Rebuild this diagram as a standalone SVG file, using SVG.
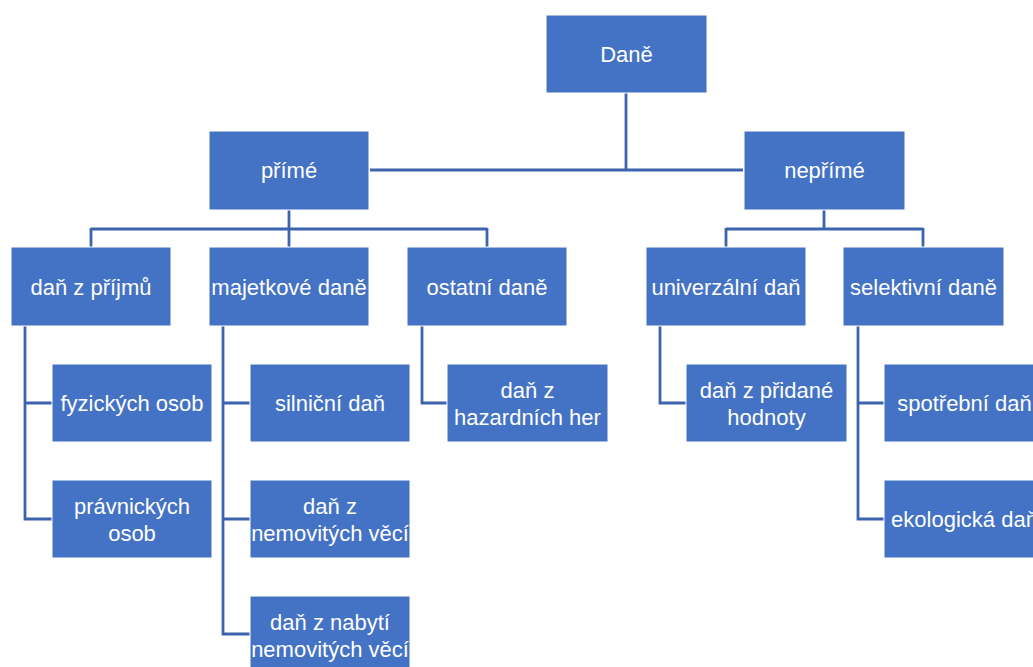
<svg xmlns="http://www.w3.org/2000/svg" width="1033" height="667" viewBox="0 0 1033 667">
<style>
.box{fill:#4472C4;stroke:#ffffff;stroke-width:1}
.t{fill:#ffffff;font-family:"Liberation Sans",Arial,sans-serif;font-size:22px;text-anchor:middle}
.c{fill:none;stroke:#3C63AC;stroke-width:2.8}
</style>
<rect width="1033" height="667" fill="#ffffff"/>
<g id="connectors">
<path class="c" d="M626,93V170M370,170H743"/>
<path class="c" d="M289,210V229M91,229H487M91,228V247M289,228V247M487,228V247"/>
<path class="c" d="M824,210V229M726,229H923M726,228V247M923,228V247"/>
<path class="c" d="M25,326V519H52M25,403H52"/>
<path class="c" d="M223,326V634H250M223,403H250M223,519H250"/>
<path class="c" d="M422,326V403H447"/>
<path class="c" d="M660,326V403H686"/>
<path class="c" d="M858,326V519H884M858,403H884"/>
</g>
<g id="dane"><rect class="box" x="546" y="15" width="161" height="78"/><text class="t" x="626.5" y="62">Daně</text></g>
<g id="prime"><rect class="box" x="209" y="131" width="160" height="79"/><text class="t" x="289" y="178">přímé</text></g>
<g id="neprime"><rect class="box" x="744" y="131" width="161" height="79"/><text class="t" x="824.5" y="178">nepřímé</text></g>
<g id="dan-z-prijmu"><rect class="box" x="11" y="247" width="160" height="79"/><text class="t" x="91" y="295">daň z příjmů</text></g>
<g id="majetkove"><rect class="box" x="209" y="247" width="160" height="79"/><text class="t" x="289" y="295">majetkové daně</text></g>
<g id="ostatni"><rect class="box" x="407" y="247" width="160" height="79"/><text class="t" x="487" y="295">ostatní daně</text></g>
<g id="univerzalni"><rect class="box" x="646" y="247" width="160" height="79"/><text class="t" x="726" y="295">univerzální daň</text></g>
<g id="selektivni"><rect class="box" x="843" y="247" width="161" height="79"/><text class="t" x="923.5" y="295">selektivní daně</text></g>
<g id="fyzickych"><rect class="box" x="52" y="364" width="160" height="78"/><text class="t" x="132" y="411">fyzických osob</text></g>
<g id="pravnickych"><rect class="box" x="52" y="480" width="160" height="78"/><text class="t" x="132" y="514">právnických</text><text class="t" x="132" y="541">osob</text></g>
<g id="silnicni"><rect class="box" x="250" y="364" width="160" height="78"/><text class="t" x="330" y="411">silniční daň</text></g>
<g id="nemovitych"><rect class="box" x="250" y="480" width="160" height="78"/><text class="t" x="330" y="514">daň z</text><text class="t" x="330" y="541">nemovitých věcí</text></g>
<g id="nabyti"><rect class="box" x="250" y="596" width="160" height="78"/><text class="t" x="330" y="630">daň z nabytí</text><text class="t" x="330" y="657">nemovitých věcí</text></g>
<g id="hazard"><rect class="box" x="447" y="364" width="161" height="78"/><text class="t" x="527.5" y="398">daň z</text><text class="t" x="527.5" y="425">hazardních her</text></g>
<g id="dph"><rect class="box" x="686" y="364" width="161" height="78"/><text class="t" x="766.5" y="398">daň z přidané</text><text class="t" x="766.5" y="425">hodnoty</text></g>
<g id="spotrebni"><rect class="box" x="884" y="364" width="161" height="78"/><text class="t" x="964.5" y="411">spotřební daň</text></g>
<g id="ekologicka"><rect class="box" x="884" y="480" width="161" height="78"/><text class="t" x="964.5" y="527">ekologická daň</text></g>
</svg>
